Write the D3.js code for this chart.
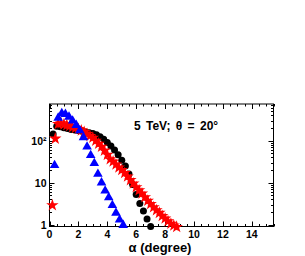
<!DOCTYPE html>
<html>
<head>
<meta charset="utf-8">
<script src="https://cdn.jsdelivr.net/npm/d3@7"></script>
<style>
  body { margin: 0; background: #fff; }
  svg { display: block; font-family: "Liberation Sans", Arial, sans-serif; }
</style>
</head>
<body>
<div id="chart"></div>
<script>
// blue triangles
const blueX = [0.35, 0.6, 0.85, 1.1, 1.35, 1.6, 1.85, 2.1, 2.35, 2.6, 2.85, 3.1, 3.35, 3.6, 3.85, 4.1, 4.35, 4.6, 4.85, 5.1];
const blueY = [26, 350, 450, 430, 370, 300, 235, 175, 120, 72, 45, 29, 16, 10, 6.4, 4.4, 2.9, 1.9, 1.3, 0.97];

// black circles
const blackX = [0.25, 0.5, 0.75, 1.0, 1.25, 1.5, 1.75, 2.0, 2.25, 2.5, 2.75, 3.0, 3.25, 3.5, 3.75, 4.0, 4.25, 4.5, 4.75, 5.0, 5.25, 5.5, 5.75, 6.0, 6.25, 6.5, 6.75, 7.0];
const blackY = [145, 220, 215, 205, 195, 185, 180, 175, 168, 162, 155, 148, 138, 125, 108, 90, 75, 60, 46, 34, 25, 16, 9, 5.2, 3.2, 2.1, 1.35, 0.9];

// red stars
const redX = [0.2, 0.4, 0.6, 0.8, 1.0, 1.2, 1.4, 1.6, 1.8, 2.0, 2.2, 2.4, 2.6, 2.8, 3.0, 3.2, 3.4, 3.6, 3.8, 4.0, 4.2, 4.4, 4.6, 4.8, 5.0, 5.2, 5.4, 5.6, 5.8, 6.0, 6.2, 6.4, 6.6, 6.8, 7.0, 7.2, 7.4, 7.6, 7.8, 8.0, 8.2, 8.4, 8.6, 8.8];
const redY = [2.9, 112, 250, 260, 245, 235, 225, 210, 200, 190, 175, 160, 145, 130, 118, 100, 85, 72, 58, 46, 36, 32, 27, 23, 20, 17, 14, 11.5, 9.5, 7.8, 6.6, 5.5, 4.5, 3.7, 3.1, 2.6, 2.2, 1.9, 1.6, 1.4, 1.2, 1.05, 0.95, 0.88];

const xTicks = [0, 2, 4, 6, 8, 10, 12, 14];
const yTicks = [1, 10, 100];
const yTickLabels = ["1", "10", "10²"];

const width = 305, height = 256;
const mLeft = 49.5, mRight = 273.5, mTop = 104, mBottom = 226.5;

const svg = d3.select("#chart").append("svg")
  .attr("width", width)
  .attr("height", height);

const x = d3.scaleLinear().domain([0, 15.5]).range([mLeft, mRight]);
const y = d3.scaleLog().domain([0.9, 750]).range([mBottom, mTop]);

// frame
svg.append("rect")
  .attr("x", mLeft).attr("y", mTop)
  .attr("width", mRight - mLeft).attr("height", mBottom - mTop)
  .attr("fill", "none").attr("stroke", "#000").attr("stroke-width", 1);

// x ticks (bottom and top, pointing inward)
const xMinor = d3.range(0, 15.51, 0.5);
const tickG = svg.append("g").attr("stroke", "#000").attr("stroke-width", 1);
xMinor.forEach(v => {
  const major = Math.abs(v / 2 - Math.round(v / 2)) < 1e-6;
  const len = major ? 5 : 2.5;
  const px = Math.round(x(v)) + 0.5;
  tickG.append("line").attr("x1", px).attr("x2", px).attr("y1", mBottom).attr("y2", mBottom - len);
  tickG.append("line").attr("x1", px).attr("x2", px).attr("y1", mTop).attr("y2", mTop + len);
});

// y ticks (left and right, log minors)
const yMinor = [];
[1, 10, 100].forEach(d => {
  for (let k = 1; k <= 9; k++) yMinor.push(d * k);
});
yMinor.filter(v => v >= 0.9 && v <= 750).forEach(v => {
  const major = yTicks.includes(v);
  const len = major ? 5 : 2.5;
  const py = Math.round(y(v)) + 0.5;
  tickG.append("line").attr("x1", mLeft).attr("x2", mLeft + len).attr("y1", py).attr("y2", py);
  tickG.append("line").attr("x1", mRight).attr("x2", mRight - len).attr("y1", py).attr("y2", py);
});

// axis labels
svg.append("g").selectAll("text")
  .data(xTicks)
  .join("text")
  .attr("x", d => x(d))
  .attr("y", mBottom + 11)
  .attr("text-anchor", "middle")
  .attr("font-size", 10.5)
  .attr("font-weight", "bold")
  .text(d => d);

svg.append("g").selectAll("text")
  .data(yTicks)
  .join("text")
  .attr("x", mLeft - 3)
  .attr("y", d => y(d) + 4)
  .attr("text-anchor", "end")
  .attr("font-size", 10.5)
  .attr("font-weight", "bold")
  .text((d, i) => yTickLabels[i]);

svg.append("text")
  .attr("x", 160)
  .attr("y", 252)
  .attr("text-anchor", "middle")
  .attr("font-size", 13)
  .attr("font-weight", "bold")
  .text("α (degree)");

svg.append("text")
  .attr("x", 134)
  .attr("y", 130)
  .attr("font-size", 12)
  .attr("font-weight", "bold")
  .attr("word-spacing", 2)
  .text("5 TeV; θ = 20°");

const plot = svg.append("g");

// black circles
plot.selectAll("circle.black")
  .data(blackX.map((d, i) => [d, blackY[i]]))
  .join("circle")
  .attr("class", "black")
  .attr("cx", d => x(d[0]))
  .attr("cy", d => y(d[1]))
  .attr("r", 3.5)
  .attr("fill", "#000");

// red stars
const star = d3.symbol().type(d3.symbolStar).size(48);
plot.selectAll("path.red")
  .data(redX.map((d, i) => [d, redY[i]]))
  .join("path")
  .attr("class", "red")
  .attr("d", star)
  .attr("transform", d => `translate(${x(d[0])},${y(d[1])})`)
  .attr("fill", "#ff0000");

// blue triangles
const tri = d3.symbol().type(d3.symbolTriangle).size(40);
plot.selectAll("path.blue")
  .data(blueX.map((d, i) => [d, blueY[i]]))
  .join("path")
  .attr("class", "blue")
  .attr("d", tri)
  .attr("transform", d => `translate(${x(d[0])},${y(d[1])})`)
  .attr("fill", "#0000ff");
</script>
</body>
</html>
